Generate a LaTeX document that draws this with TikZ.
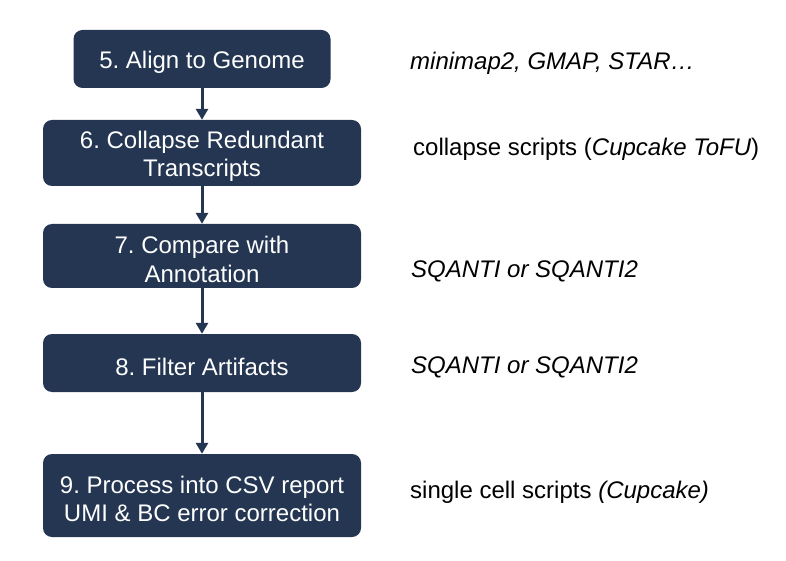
\documentclass[tikz,border=0pt]{standalone}
\usepackage{fontspec}
\setmainfont{Liberation Sans}
\usetikzlibrary{arrows.meta}
\frenchspacing

\definecolor{stepblue}{RGB}{36,54,81}

\tikzset{
  stepbox/.style={rectangle, rounded corners=9pt, fill=stepblue, inner sep=0pt},
  steptext/.style={text=white, align=center, inner sep=0pt, font=\fontsize{24}{28.5}\selectfont},
  toolnote/.style={anchor=base west, inner sep=0pt, font=\fontsize{24}{28.5}\selectfont},
  flow/.style={draw=stepblue, line width=3pt, -{Triangle[width=12pt,length=11pt]}}
}

\begin{document}
\begin{tikzpicture}[x=1pt, y=1pt]
      \useasboundingbox (0,0) rectangle (786,560);
      \def \Steps {
        s5/202/501/257/58/{5. Align to Genome},
        s6/202/407/318/66/{6. Collapse Redundant\\Transcripts},
        s7/202/304/318/64/{7. Compare with\\Annotation},
        s8/202/197/318/58/{8. Filter Artifacts},
        s9/202/64.5/318/83/{9. Process into CSV report\\UMI \& BC error correction}}
      \def \Tools {
        t5/410/490/{\textit{minimap2, GMAP, STAR…}},
        t6/413/404/{collapse scripts (\textit{Cupcake ToFU})},
        t7/411/283/{\textit{SQANTI or SQANTI2}},
        t8/411/187/{\textit{SQANTI or SQANTI2}},
        t9/410/62/{single cell scripts \textit{(Cupcake)}}}

      \foreach \id / \x / \y / \w / \h / \txt in \Steps {
        \node[stepbox, minimum width=\w pt, minimum height=\h pt] (\id) at (\x, \y) {};
        \node[steptext] (\id t) at ([yshift=-3.5pt]\id.center) {\txt};
      }
      \foreach \id / \x / \y / \txt in \Tools {
        \node[toolnote] (\id) at (\x, \y) {\txt};
      }
      \foreach \a / \b in {s5/s6, s6/s7, s7/s8, s8/s9} {
        \path[flow] (\a) -- (\b);
      }
    \end{tikzpicture}
\end{document}
